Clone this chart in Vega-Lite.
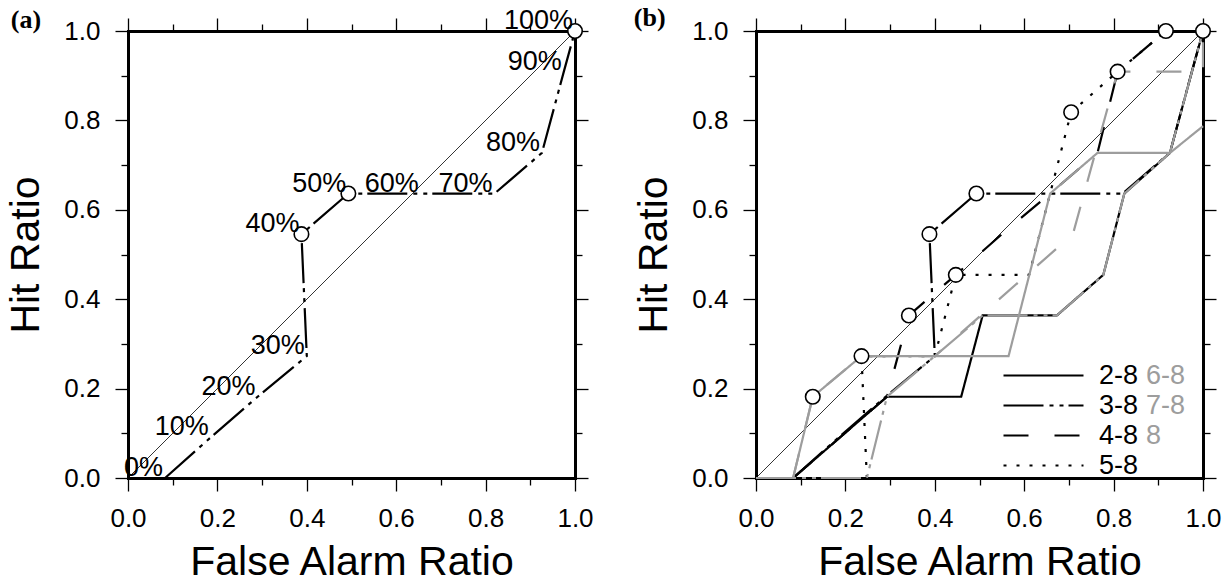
{
  "$schema": "https://vega.github.io/schema/vega-lite/v6.json",
  "padding": {"left": 5, "top": 5, "right": 0, "bottom": 0},
  "background": "white",
  "bounds": "full",
  "spacing": 39,
  "resolve": {"legend": {"color": "independent", "strokeDash": "independent"}},
  "config": {
    "view": {"stroke": null},
    "font": "Liberation Sans",
    "axis": {"grid": false, "tickColor": "black", "domainColor": "black", "labelColor": "black", "titleColor": "black", "tickWidth": 1.3, "labelFont": "Liberation Sans", "titleFont": "Liberation Sans", "titleFontWeight": "normal", "labelFlush": false, "labelOverlap": false, "labelBound": false},
    "legend": {"labelFont": "Liberation Sans"},
    "title": {"font": "Liberation Serif", "fontWeight": "bold", "fontSize": 26, "color": "black", "anchor": "start", "frame": "bounds", "offset": 0}
  },
  "datasets": {
    "diag": [{"x": 0, "y": 0}, {"x": 1, "y": 1}],
    "curveA": [
      {"i": 0, "x": 0.083, "y": 0.0, "pct": "0%"},
      {"i": 1, "x": 0.185, "y": 0.0909, "pct": "10%"},
      {"i": 2, "x": 0.29, "y": 0.1818, "pct": "20%"},
      {"i": 3, "x": 0.40, "y": 0.2727, "pct": "30%"},
      {"i": 4, "x": 0.388, "y": 0.5455, "pct": "40%"},
      {"i": 5, "x": 0.493, "y": 0.6364, "pct": "50%"},
      {"i": 6, "x": 0.655, "y": 0.6364, "pct": "60%"},
      {"i": 7, "x": 0.82, "y": 0.6364, "pct": "70%"},
      {"i": 8, "x": 0.926, "y": 0.7273, "pct": "80%"},
      {"i": 9, "x": 0.975, "y": 0.9091, "pct": "90%"},
      {"i": 10, "x": 1.0, "y": 1.0, "pct": "100%"}
    ],
    "circlesA": [
      {"x": 0.388, "y": 0.5455}, {"x": 0.493, "y": 0.6364}, {"x": 1.0, "y": 1.0}
    ],
    "curvesB": [
      {"series": "2-8", "i": 0, "x": 0.083, "y": 0.0},
      {"series": "2-8", "i": 1, "x": 0.293, "y": 0.1818},
      {"series": "2-8", "i": 2, "x": 0.459, "y": 0.1818},
      {"series": "2-8", "i": 3, "x": 0.507, "y": 0.3636},
      {"series": "2-8", "i": 4, "x": 0.673, "y": 0.3636},
      {"series": "2-8", "i": 5, "x": 0.777, "y": 0.4545},
      {"series": "2-8", "i": 6, "x": 0.824, "y": 0.6364},
      {"series": "2-8", "i": 7, "x": 0.926, "y": 0.7273},
      {"series": "2-8", "i": 8, "x": 1.0, "y": 1.0},
      {"series": "3-8", "i": 0, "x": 0.083, "y": 0.0},
      {"series": "3-8", "i": 1, "x": 0.185, "y": 0.0909},
      {"series": "3-8", "i": 2, "x": 0.29, "y": 0.1818},
      {"series": "3-8", "i": 3, "x": 0.40, "y": 0.2727},
      {"series": "3-8", "i": 4, "x": 0.388, "y": 0.5455},
      {"series": "3-8", "i": 5, "x": 0.493, "y": 0.6364},
      {"series": "3-8", "i": 6, "x": 0.655, "y": 0.6364},
      {"series": "3-8", "i": 7, "x": 0.82, "y": 0.6364},
      {"series": "3-8", "i": 8, "x": 0.926, "y": 0.7273},
      {"series": "3-8", "i": 9, "x": 0.975, "y": 0.9091},
      {"series": "3-8", "i": 10, "x": 1.0, "y": 1.0},
      {"series": "4-8", "i": 0, "x": 0.083, "y": 0.0},
      {"series": "4-8", "i": 1, "x": 0.293, "y": 0.1818},
      {"series": "4-8", "i": 2, "x": 0.342, "y": 0.3636},
      {"series": "4-8", "i": 3, "x": 0.447, "y": 0.4545},
      {"series": "4-8", "i": 4, "x": 0.55, "y": 0.5455},
      {"series": "4-8", "i": 5, "x": 0.658, "y": 0.6364},
      {"series": "4-8", "i": 6, "x": 0.764, "y": 0.7273},
      {"series": "4-8", "i": 7, "x": 0.809, "y": 0.9091},
      {"series": "4-8", "i": 8, "x": 0.917, "y": 1.0},
      {"series": "4-8", "i": 9, "x": 1.0, "y": 1.0},
      {"series": "5-8", "i": 0, "x": 0.248, "y": 0.0},
      {"series": "5-8", "i": 1, "x": 0.236, "y": 0.2727},
      {"series": "5-8", "i": 2, "x": 0.40, "y": 0.2727},
      {"series": "5-8", "i": 3, "x": 0.447, "y": 0.4545},
      {"series": "5-8", "i": 4, "x": 0.611, "y": 0.4545},
      {"series": "5-8", "i": 5, "x": 0.658, "y": 0.6364},
      {"series": "5-8", "i": 6, "x": 0.705, "y": 0.8182},
      {"series": "5-8", "i": 7, "x": 0.809, "y": 0.9091},
      {"series": "5-8", "i": 8, "x": 0.917, "y": 1.0},
      {"series": "5-8", "i": 9, "x": 1.0, "y": 1.0},
      {"series": "6-8", "i": 0, "x": 0.0, "y": 0.0},
      {"series": "6-8", "i": 1, "x": 0.083, "y": 0.0},
      {"series": "6-8", "i": 2, "x": 0.127, "y": 0.1818},
      {"series": "6-8", "i": 3, "x": 0.236, "y": 0.2727},
      {"series": "6-8", "i": 4, "x": 0.565, "y": 0.2727},
      {"series": "6-8", "i": 5, "x": 0.658, "y": 0.6364},
      {"series": "6-8", "i": 6, "x": 0.764, "y": 0.7273},
      {"series": "6-8", "i": 7, "x": 0.926, "y": 0.7273},
      {"series": "6-8", "i": 8, "x": 1.0, "y": 0.787},
      {"series": "7-8", "i": 0, "x": 0.0, "y": 0.0},
      {"series": "7-8", "i": 1, "x": 0.248, "y": 0.0},
      {"series": "7-8", "i": 2, "x": 0.293, "y": 0.1818},
      {"series": "7-8", "i": 3, "x": 0.40, "y": 0.2727},
      {"series": "7-8", "i": 4, "x": 0.507, "y": 0.3636},
      {"series": "7-8", "i": 5, "x": 0.673, "y": 0.3636},
      {"series": "7-8", "i": 6, "x": 0.777, "y": 0.4545},
      {"series": "7-8", "i": 7, "x": 0.824, "y": 0.6364},
      {"series": "7-8", "i": 8, "x": 0.926, "y": 0.7273},
      {"series": "7-8", "i": 9, "x": 1.0, "y": 1.0},
      {"series": "8", "i": 0, "x": 0.083, "y": 0.0},
      {"series": "8", "i": 1, "x": 0.127, "y": 0.1818},
      {"series": "8", "i": 2, "x": 0.236, "y": 0.2727},
      {"series": "8", "i": 3, "x": 0.40, "y": 0.2727},
      {"series": "8", "i": 4, "x": 0.709, "y": 0.5455},
      {"series": "8", "i": 5, "x": 0.809, "y": 0.9091},
      {"series": "8", "i": 6, "x": 1.0, "y": 0.9091},
      {"series": "8", "i": 7, "x": 1.0, "y": 1.0}
    ],
    "circlesB": [
      {"x": 0.127, "y": 0.1818}, {"x": 0.236, "y": 0.2727}, {"x": 0.342, "y": 0.3636},
      {"x": 0.447, "y": 0.4545}, {"x": 0.388, "y": 0.5455}, {"x": 0.493, "y": 0.6364},
      {"x": 0.705, "y": 0.8182}, {"x": 0.809, "y": 0.9091}, {"x": 0.917, "y": 1.0},
      {"x": 1.0, "y": 1.0}
    ]
  },
  "hconcat": [
    {
      "width": 447,
      "height": 447,
      "title": {"text": "(a)", "dy": 30, "dx": 5},
      "layer": [
        {
          "data": {"name": "diag"},
          "mark": {"type": "line", "color": "black", "strokeWidth": 0.8},
          "encoding": {
            "x": {"field": "x", "type": "quantitative", "scale": {"domain": [0, 1], "nice": false, "zero": false},
              "axis": {"orient": "bottom", "values": [0, 0.2, 0.4, 0.6, 0.8, 1], "format": ".1f", "tickSize": 13, "domain": true, "domainWidth": 3, "domainCap": "square", "labelFontSize": 26, "labelPadding": 14, "title": "False Alarm Ratio", "titleFontSize": 41, "titlePadding": 11}},
            "y": {"field": "y", "type": "quantitative", "scale": {"domain": [0, 1], "nice": false, "zero": false},
              "axis": {"orient": "left", "values": [0, 0.2, 0.4, 0.6, 0.8, 1], "format": ".1f", "tickSize": 13, "domain": true, "domainWidth": 3, "domainCap": "square", "labelFontSize": 26, "labelPadding": 15, "title": "Hit Ratio", "titleFontSize": 41, "titlePadding": 16}}
          }
        },
        {
          "data": {"name": "curveA"},
          "mark": {"type": "line", "color": "black", "strokeWidth": 2.2, "strokeDash": [40, 6, 4, 6, 4, 5]},
          "encoding": {
            "x": {"field": "x", "type": "quantitative", "scale": {"domain": [0, 1], "nice": false, "zero": false},
              "axis": {"orient": "bottom", "values": [0.1, 0.3, 0.5, 0.7, 0.9], "tickSize": 7, "domain": false, "labels": false, "title": null}},
            "y": {"field": "y", "type": "quantitative", "scale": {"domain": [0, 1], "nice": false, "zero": false},
              "axis": {"orient": "left", "values": [0.1, 0.3, 0.5, 0.7, 0.9], "tickSize": 7, "domain": false, "labels": false, "title": null}},
            "order": {"field": "i", "type": "quantitative"}
          }
        },
        {
          "data": {"name": "circlesA"},
          "mark": {"type": "point", "shape": "circle", "size": 210, "filled": true, "fill": "white", "stroke": "black", "strokeWidth": 1.6, "opacity": 1},
          "encoding": {
            "x": {"field": "x", "type": "quantitative", "scale": {"domain": [0, 1], "nice": false, "zero": false},
              "axis": {"orient": "top", "values": [0, 0.2, 0.4, 0.6, 0.8, 1], "tickSize": 13, "domain": true, "domainWidth": 3, "domainCap": "square", "labels": false, "title": null}},
            "y": {"field": "y", "type": "quantitative", "scale": {"domain": [0, 1], "nice": false, "zero": false},
              "axis": {"orient": "right", "values": [0, 0.2, 0.4, 0.6, 0.8, 1], "tickSize": 13, "domain": true, "domainWidth": 3, "domainCap": "square", "labels": false, "title": null}}
          }
        },
        {
          "data": {"name": "curveA"},
          "mark": {"type": "text", "align": "right", "baseline": "alphabetic", "dx": -2, "dy": -2, "fontSize": 27, "color": "black", "font": "Liberation Sans"},
          "encoding": {
            "x": {"field": "x", "type": "quantitative", "scale": {"domain": [0, 1], "nice": false, "zero": false},
              "axis": {"orient": "top", "values": [0.1, 0.3, 0.5, 0.7, 0.9], "tickSize": 7, "domain": false, "labels": false, "title": null}},
            "y": {"field": "y", "type": "quantitative", "scale": {"domain": [0, 1], "nice": false, "zero": false},
              "axis": {"orient": "right", "values": [0.1, 0.3, 0.5, 0.7, 0.9], "tickSize": 7, "domain": false, "labels": false, "title": null}},
            "text": {"field": "pct"}
          }
        }
      ],
      "resolve": {"axis": {"x": "independent", "y": "independent"}}
    },
    {
      "width": 447,
      "height": 447,
      "title": {"text": "(b)", "dy": 18},
      "layer": [
        {
          "data": {"name": "diag"},
          "mark": {"type": "line", "color": "black", "strokeWidth": 0.8},
          "encoding": {
            "x": {"field": "x", "type": "quantitative", "scale": {"domain": [0, 1], "nice": false, "zero": false},
              "axis": {"orient": "bottom", "values": [0, 0.2, 0.4, 0.6, 0.8, 1], "format": ".1f", "tickSize": 13, "domain": true, "domainWidth": 3, "domainCap": "square", "labelFontSize": 26, "labelPadding": 14, "title": "False Alarm Ratio", "titleFontSize": 41, "titlePadding": 11}},
            "y": {"field": "y", "type": "quantitative", "scale": {"domain": [0, 1], "nice": false, "zero": false},
              "axis": {"orient": "left", "values": [0, 0.2, 0.4, 0.6, 0.8, 1], "format": ".1f", "tickSize": 13, "domain": true, "domainWidth": 3, "domainCap": "square", "labelFontSize": 26, "labelPadding": 15, "title": "Hit Ratio", "titleFontSize": 41, "titlePadding": 16}}
          }
        },
        {
          "data": {"name": "curvesB"},
          "transform": [{"filter": {"field": "series", "oneOf": ["2-8", "3-8", "4-8", "5-8"]}}],
          "mark": {"type": "line", "strokeWidth": 2.2, "color": "black"},
          "encoding": {
            "x": {"field": "x", "type": "quantitative", "scale": {"domain": [0, 1], "nice": false, "zero": false},
              "axis": {"orient": "bottom", "values": [0.1, 0.3, 0.5, 0.7, 0.9], "tickSize": 7, "domain": false, "labels": false, "title": null}},
            "y": {"field": "y", "type": "quantitative", "scale": {"domain": [0, 1], "nice": false, "zero": false},
              "axis": {"orient": "left", "values": [0.1, 0.3, 0.5, 0.7, 0.9], "tickSize": 7, "domain": false, "labels": false, "title": null}},
            "order": {"field": "i", "type": "quantitative"},
            "strokeDash": {"field": "series", "type": "nominal",
              "scale": {"domain": ["2-8", "3-8", "4-8", "5-8", "6-8", "7-8", "8"], "range": [[1, 0], [40, 6, 4, 6, 4, 5], [25, 26], [3, 10], [1, 0], [40, 6, 4, 6, 4, 5], [25, 26]]},
              "legend": {"values": ["2-8", "3-8", "4-8", "5-8"], "orient": "none", "legendX": 246, "legendY": 332, "title": null, "symbolType": "stroke", "symbolSize": 6400, "symbolStrokeWidth": 2.2, "symbolStrokeColor": "black", "labelFontSize": 27, "labelColor": "black", "labelOffset": 14, "clipHeight": 25, "rowPadding": 2, "padding": 0}}
          }
        },
        {
          "data": {"name": "curvesB"},
          "transform": [{"filter": {"field": "series", "oneOf": ["6-8", "8", "7-8"]}}],
          "mark": {"type": "line", "strokeWidth": 2.2},
          "encoding": {
            "x": {"field": "x", "type": "quantitative", "scale": {"domain": [0, 1], "nice": false, "zero": false},
              "axis": {"orient": "top", "values": [0.1, 0.3, 0.5, 0.7, 0.9], "tickSize": 7, "domain": false, "labels": false, "title": null}},
            "y": {"field": "y", "type": "quantitative", "scale": {"domain": [0, 1], "nice": false, "zero": false},
              "axis": {"orient": "right", "values": [0.1, 0.3, 0.5, 0.7, 0.9], "tickSize": 7, "domain": false, "labels": false, "title": null}},
            "order": {"field": "i", "type": "quantitative"},
            "color": {"field": "series", "type": "nominal",
              "scale": {"domain": ["6-8", "7-8", "8"], "range": ["#9d9d9d", "#9d9d9d", "#9d9d9d"]},
              "legend": {"values": ["6-8", "7-8", "8"], "orient": "none", "legendX": 363, "legendY": 332, "title": null, "symbolType": "stroke", "symbolSize": 1, "symbolOpacity": 0, "symbolStrokeWidth": 0, "labelFontSize": 27, "labelColor": "#9d9d9d", "labelOffset": 0, "clipHeight": 25, "rowPadding": 2, "padding": 0}},
            "strokeDash": {"field": "series", "type": "nominal",
              "scale": {"domain": ["2-8", "3-8", "4-8", "5-8", "6-8", "7-8", "8"], "range": [[1, 0], [40, 6, 4, 6, 4, 5], [25, 26], [3, 10], [1, 0], [40, 6, 4, 6, 4, 5], [25, 26]]},
              "legend": null}
          }
        },
        {
          "data": {"name": "circlesB"},
          "mark": {"type": "point", "shape": "circle", "size": 210, "filled": true, "fill": "white", "stroke": "black", "strokeWidth": 1.6, "opacity": 1},
          "encoding": {
            "x": {"field": "x", "type": "quantitative", "scale": {"domain": [0, 1], "nice": false, "zero": false},
              "axis": {"orient": "top", "values": [0, 0.2, 0.4, 0.6, 0.8, 1], "tickSize": 13, "domain": true, "domainWidth": 3, "domainCap": "square", "labels": false, "title": null}},
            "y": {"field": "y", "type": "quantitative", "scale": {"domain": [0, 1], "nice": false, "zero": false},
              "axis": {"orient": "right", "values": [0, 0.2, 0.4, 0.6, 0.8, 1], "tickSize": 13, "domain": true, "domainWidth": 3, "domainCap": "square", "labels": false, "title": null}}
          }
        }
      ],
      "resolve": {"axis": {"x": "independent", "y": "independent"}}
    }
  ]
}
